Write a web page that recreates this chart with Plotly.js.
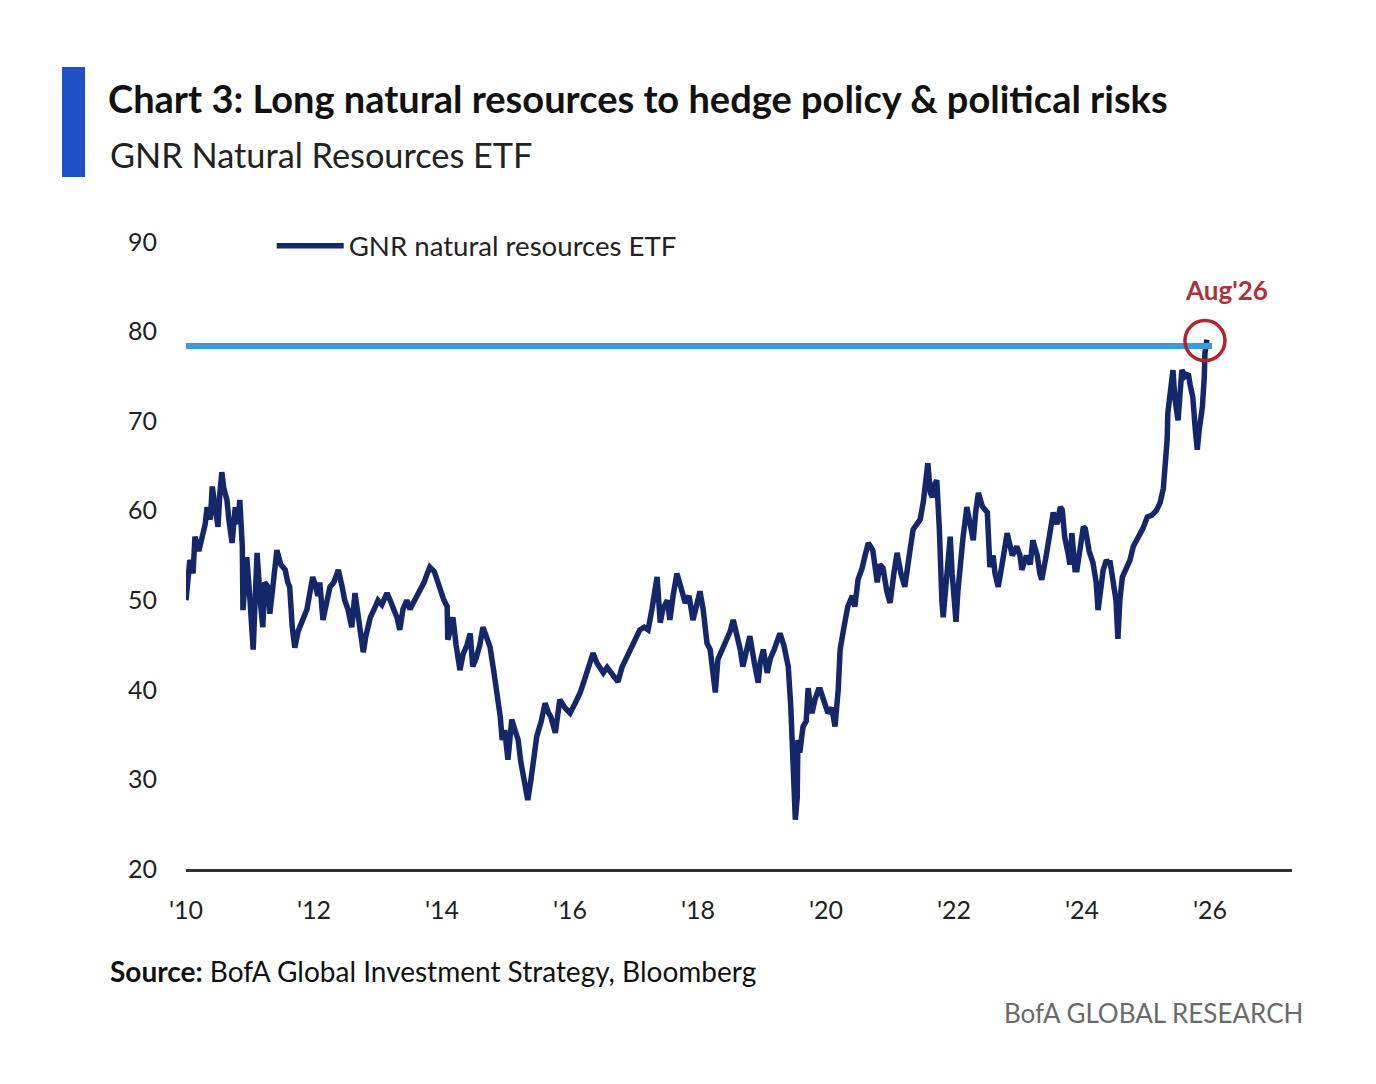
<!DOCTYPE html>
<html>
<head>
<meta charset="utf-8">
<script src="https://cdn.plot.ly/plotly-3.0.1.min.js"></script>
<style>
  html, body { margin: 0; padding: 0; background: #ffffff; }
  #chart { width: 1376px; height: 1084px; }
</style>
</head>
<body>
<div id="chart"></div>
<script>
// ---- Data ----
const seriesName = "GNR natural resources ETF";

// decimal-year positions of the GNR series
const years = [
  2010.00,2010.03,2010.06,2010.11,2010.14,2010.20,2010.25,2010.30,2010.33,2010.38,
  2010.41,2010.45,2010.50,2010.53,2010.56,2010.59,2010.64,2010.67,2010.72,2010.77,
  2010.81,2010.84,2010.88,2010.89,2010.92,2010.95,2011.00,2011.05,2011.08,2011.11,
  2011.16,2011.20,2011.23,2011.28,2011.31,2011.36,2011.42,2011.48,2011.55,2011.59,
  2011.62,2011.66,2011.70,2011.75,2011.83,2011.89,2011.94,2011.98,2012.03,2012.06,
  2012.09,2012.14,2012.19,2012.25,2012.31,2012.38,2012.44,2012.48,2012.53,2012.59,
  2012.64,2012.69,2012.73,2012.77,2012.81,2012.88,2012.94,2013.00,2013.06,2013.14,
  2013.19,2013.23,2013.30,2013.34,2013.39,2013.45,2013.50,2013.55,2013.61,2013.66,
  2013.72,2013.77,2013.81,2013.88,2013.92,2013.97,2014.03,2014.08,2014.09,2014.14,
  2014.17,2014.22,2014.28,2014.33,2014.39,2014.44,2014.48,2014.53,2014.59,2014.64,
  2014.70,2014.75,2014.81,2014.86,2014.91,2014.94,2014.98,2015.03,2015.06,2015.09,
  2015.14,2015.19,2015.23,2015.28,2015.34,2015.39,2015.44,2015.48,2015.55,2015.61,
  2015.66,2015.70,2015.77,2015.81,2015.84,2015.92,2016.00,2016.08,2016.16,2016.22,
  2016.28,2016.36,2016.42,2016.47,2016.52,2016.58,2016.63,2016.69,2016.75,2016.81,
  2016.89,2016.95,2017.02,2017.09,2017.16,2017.22,2017.28,2017.33,2017.36,2017.41,
  2017.45,2017.52,2017.56,2017.61,2017.67,2017.73,2017.80,2017.86,2017.92,2017.98,
  2018.03,2018.08,2018.14,2018.19,2018.23,2018.27,2018.31,2018.38,2018.44,2018.50,
  2018.55,2018.61,2018.66,2018.70,2018.75,2018.81,2018.88,2018.94,2018.97,2019.02,
  2019.08,2019.13,2019.19,2019.23,2019.28,2019.34,2019.41,2019.45,2019.48,2019.52,
  2019.55,2019.56,2019.59,2019.64,2019.69,2019.72,2019.75,2019.78,2019.83,2019.88,
  2019.91,2019.97,2020.03,2020.09,2020.14,2020.19,2020.22,2020.28,2020.34,2020.41,
  2020.45,2020.50,2020.56,2020.61,2020.66,2020.73,2020.80,2020.84,2020.89,2020.95,
  2021.00,2021.06,2021.11,2021.17,2021.23,2021.30,2021.36,2021.42,2021.47,2021.52,
  2021.55,2021.59,2021.63,2021.66,2021.70,2021.73,2021.77,2021.78,2021.81,2021.83,
  2021.88,2021.91,2021.94,2021.97,2022.00,2022.03,2022.06,2022.09,2022.14,2022.20,
  2022.25,2022.30,2022.34,2022.38,2022.44,2022.52,2022.56,2022.61,2022.64,2022.69,
  2022.75,2022.83,2022.91,2022.98,2023.03,2023.06,2023.13,2023.19,2023.23,2023.30,
  2023.34,2023.37,2023.44,2023.50,2023.55,2023.61,2023.66,2023.69,2023.73,2023.78,
  2023.81,2023.84,2023.89,2023.92,2023.97,2024.02,2024.05,2024.11,2024.17,2024.22,
  2024.25,2024.30,2024.33,2024.38,2024.41,2024.44,2024.48,2024.53,2024.56,2024.59,
  2024.63,2024.69,2024.75,2024.80,2024.88,2024.95,2025.02,2025.09,2025.16,2025.22,
  2025.27,2025.30,2025.33,2025.34,2025.38,2025.42,2025.45,2025.50,2025.53,2025.56,
  2025.61,2025.66,2025.69,2025.73,2025.77,2025.80,2025.83,2025.88,2025.91,2025.92,
  2025.95
];

// GNR price levels
const gnrValues = [
  50.0,52.0,54.5,53.0,57.1,55.5,57.0,58.5,60.4,59.0,
  62.7,61.0,58.2,62.0,64.3,62.5,61.2,59.0,56.4,60.4,
  58.5,61.2,56.0,48.9,53.0,54.8,50.0,44.5,50.0,55.3,
  50.0,47.0,52.0,51.5,48.5,52.5,55.6,54.0,53.4,52.0,
  51.5,47.0,44.7,46.5,48.1,49.0,51.0,52.6,51.5,50.5,
  52.0,47.8,49.5,51.5,52.0,53.4,51.5,50.0,49.0,47.0,
  50.8,48.0,46.0,44.2,46.0,48.1,49.0,50.0,49.5,50.8,
  50.0,49.3,48.0,46.7,49.0,50.0,49.0,49.7,50.5,51.0,
  52.0,53.0,53.7,53.2,52.3,51.0,50.0,49.3,45.6,47.0,
  48.1,45.0,42.2,44.0,45.0,46.3,42.6,43.5,45.0,47.0,
  45.5,44.8,42.0,39.7,37.0,34.4,35.5,32.2,35.0,36.7,
  35.5,34.4,32.0,30.0,27.7,30.0,33.0,34.8,36.5,38.5,
  37.5,37.0,35.2,37.0,38.9,38.0,37.4,38.5,39.7,41.0,
  42.5,44.1,43.0,42.5,41.9,42.5,42.0,41.5,40.9,42.5,
  43.7,44.5,45.5,46.7,47.0,46.7,49.0,51.0,52.6,47.5,
  49.0,50.0,47.8,50.5,53.0,51.5,49.7,50.5,47.8,49.5,
  51.0,49.0,45.2,44.5,42.0,39.7,43.4,44.5,45.5,46.5,
  47.8,46.0,44.5,42.6,44.5,46.0,43.0,40.8,43.0,44.5,
  41.9,43.5,44.5,45.5,46.3,45.0,42.6,38.0,32.0,25.5,
  28.0,34.4,33.0,35.9,36.5,40.2,38.5,37.4,39.0,40.0,
  40.0,38.5,37.4,38.0,35.9,40.0,44.5,47.0,49.3,50.5,
  49.3,52.3,53.5,55.0,56.4,55.6,52.0,54.0,53.6,51.0,
  49.7,53.0,55.3,53.0,51.5,55.0,57.9,58.5,59.0,61.0,
  63.1,65.3,62.0,61.5,63.0,63.4,58.0,53.7,50.0,48.1,
  53.0,55.0,57.1,53.0,49.0,47.6,51.0,53.7,57.0,60.4,
  58.5,56.7,60.0,62.0,60.5,59.8,53.7,55.0,53.0,51.5,
  54.0,57.5,55.0,56.0,55.0,53.4,55.0,54.0,56.7,55.0,
  53.0,52.3,55.0,57.5,59.8,58.5,60.4,60.1,57.0,55.3,
  54.0,57.5,53.4,53.4,56.0,58.2,58.0,55.5,54.2,52.0,
  48.9,52.0,53.4,54.5,54.2,54.2,52.0,50.0,45.7,50.0,
  52.6,53.5,54.5,56.0,57.1,58.0,59.3,59.5,60.0,60.9,
  62.5,64.6,68.0,70.9,73.0,75.7,72.5,70.1,73.0,75.7,
  75.0,75.3,74.0,72.7,69.0,66.8,69.0,71.6,75.0,77.6,
  79.1
];

// horizontal reference level and its span
const refLevel = 78.4;
const refStart = 2010.0;
const refEnd = 2026.03;

// highlighted point (circle + label)
const markYear = 2025.92;
const markValue = 79.0;
const markLabel = "Aug'26";
const markLabelYear = 2026.26;
const markLabelValue = 84.6;

// axes
const xTickVals = [2010, 2012, 2014, 2016, 2018, 2020, 2022, 2024, 2026];
const xTickText = ["'10", "'12", "'14", "'16", "'18", "'20", "'22", "'24", "'26"];
const xRange = [2010, 2027.28];
const yRange = [20, 90];
const yTickVals = [20, 30, 40, 50, 60, 70, 80, 90];

// texts
const titleText = "Chart 3: Long natural resources to hedge policy & political risks";
const subtitleText = "GNR Natural Resources ETF";
const sourceText = "<b>Source:</b> BofA Global Investment Strategy, Bloomberg";
const brandText = "BofA GLOBAL RESEARCH";

const FONT = "Lato, 'Open Sans', sans-serif";

const traces = [
  {
    type: "scatter",
    mode: "lines",
    name: seriesName,
    x: years,
    y: gnrValues,
    line: { color: "#15276b", width: 5.5 },
    hoverinfo: "x+y"
  }
];

const layout = {
  width: 1376,
  height: 1084,
  paper_bgcolor: "#ffffff",
  plot_bgcolor: "#ffffff",
  margin: { l: 186, r: 84, t: 242, b: 215, pad: 0 },
  font: { family: FONT, color: "#222222", size: 25 },
  title: {
    text: "<b>" + titleText.replace("&", "&amp;") + "</b>",
    x: 108 / 1376,
    xanchor: "left",
    xref: "container",
    y: 1 - 100 / 1084,
    yanchor: "middle",
    yref: "container",
    font: { family: FONT, size: 38, color: "#111111" }
  },
  showlegend: true,
  legend: {
    x: 0.0775,
    xanchor: "left",
    y: 0.994,
    yanchor: "middle",
    bgcolor: "rgba(0,0,0,0)",
    borderwidth: 0,
    itemwidth: 67,
    font: { family: FONT, size: 27.6, color: "#222222" }
  },
  xaxis: {
    type: "linear",
    range: xRange,
    tickmode: "array",
    tickvals: xTickVals,
    ticktext: xTickText,
    ticks: "",
    ticklabelstandoff: 17,
    showgrid: false,
    zeroline: false,
    showline: true,
    linecolor: "#333333",
    linewidth: 3,
    tickfont: { family: FONT, size: 25, color: "#222222" },
    fixedrange: true
  },
  yaxis: {
    range: yRange,
    tickmode: "array",
    tickvals: yTickVals,
    ticks: "",
    ticklabelstandoff: 28,
    showgrid: false,
    zeroline: false,
    showline: false,
    tickfont: { family: FONT, size: 25, color: "#222222" },
    fixedrange: true
  },
  shapes: [
    {
      type: "rect",
      xref: "paper", yref: "paper",
      x0: (62 - 186) / 1106, x1: (85 - 186) / 1106,
      y0: (869 - 177) / 627, y1: (869 - 67) / 627,
      fillcolor: "#1f50c6",
      line: { width: 0 },
      layer: "above"
    },
    {
      type: "line",
      xref: "x", yref: "y",
      x0: refStart, x1: refEnd,
      y0: refLevel, y1: refLevel,
      line: { color: "#3b9ade", width: 6 },
      layer: "above"
    },
    {
      type: "circle",
      xref: "x", yref: "y",
      xsizemode: "pixel", ysizemode: "pixel",
      xanchor: markYear, yanchor: markValue,
      x0: -20, x1: 20, y0: -20, y1: 20,
      line: { color: "#b3242f", width: 3.5 },
      fillcolor: "rgba(0,0,0,0)",
      layer: "above"
    }
  ],
  annotations: [
    {
      xref: "paper", yref: "paper",
      x: (108 - 186) / 1106, y: (869 - 154) / 627,
      xanchor: "left", yanchor: "middle",
      text: subtitleText,
      showarrow: false,
      font: { family: FONT, size: 34.3, color: "#222222" }
    },
    {
      xref: "x", yref: "y",
      x: markLabelYear, y: markLabelValue,
      xanchor: "center", yanchor: "middle",
      text: "<b>" + markLabel + "</b>",
      showarrow: false,
      font: { family: FONT, size: 26, color: "#b0303c" }
    },
    {
      xref: "paper", yref: "paper",
      x: (108 - 186) / 1106, y: (869 - 971) / 627,
      xanchor: "left", yanchor: "middle",
      text: sourceText,
      showarrow: false,
      font: { family: FONT, size: 28, color: "#111111" }
    },
    {
      xref: "paper", yref: "paper",
      x: (1305 - 186) / 1106, y: (869 - 1013) / 627,
      xanchor: "right", yanchor: "middle",
      text: brandText,
      showarrow: false,
      font: { family: FONT, size: 26, color: "#6a6a6a" }
    }
  ]
};

Plotly.newPlot("chart", traces, layout, { displayModeBar: false, staticPlot: true });
</script>
</body>
</html>
